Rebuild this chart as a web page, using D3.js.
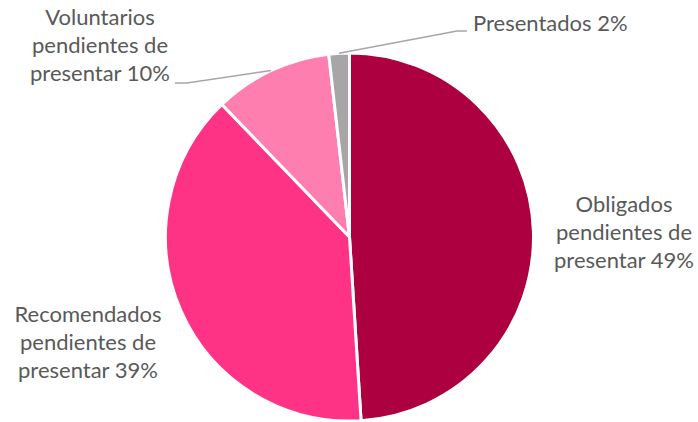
<!DOCTYPE html>
<meta charset="utf-8">
<style>
    body { margin: 0; background: #fff; }
    svg { font-family: Lato, "Open Sans", sans-serif; }
    .label { fill: #595959; font-size: 22px; }
</style>
<body>
<script src="https://d3js.org/d3.v7.min.js"></script>
<script>
    // slice data, clockwise from 12 o'clock
    const categories = ["Obligados", "Recomendados", "Voluntarios", "Presentados"];
    const shares = [49.0, 38.8, 10.4, 1.8];
    const labelLines = [
        ["Obligados", "pendientes de", "presentar 49%"],
        ["Recomendados", "pendientes de", "presentar 39%"],
        ["Voluntarios", "pendientes de", "presentar 10%"],
        ["Presentados 2%"]
    ];
    const colors = ["#ad0040", "#ff3385", "#ff7eb0", "#a6a6a6"];

    const width = 698, height = 422;
    const cx = 349.5, cy = 237, radius = 184;

    // where Excel put each label (x, first baseline, anchor) and optional leader elbow
    const labelPos = [
        {x: 624, y: 212, anchor: "middle"},
        {x: 88, y: 322, anchor: "middle"},
        {x: 100, y: 25, anchor: "middle", elbow: [187, 83], end: [175, 83]},
        {x: 473, y: 31, anchor: "start", elbow: [457, 31], end: [467, 31]}
    ];
    const lineHeight = 28;

    const data = categories.map((c, i) => ({name: c, value: shares[i], i: i}));

    const svg = d3.select("body").append("svg")
        .attr("width", width)
        .attr("height", height);

    const pie = d3.pie().sort(null).value(d => d.value);
    const arc = d3.arc().innerRadius(0).outerRadius(radius);
    const edge = d3.arc().innerRadius(radius).outerRadius(radius);

    const g = svg.append("g").attr("transform", "translate(" + cx + "," + cy + ")");

    const arcs = pie(data);

    g.selectAll("path.slice")
        .data(arcs)
        .enter().append("path")
        .attr("class", "slice")
        .attr("d", arc)
        .style("fill", d => colors[d.data.i])
        .style("stroke", "#fff")
        .style("stroke-width", 3)
        .style("stroke-linejoin", "round");

    // leader lines from the slice rim to the label
    arcs.forEach(d => {
        const p = labelPos[d.data.i];
        if (!p.elbow) return;
        const s = edge.centroid(d);
        const pts = [[cx + s[0], cy + s[1]], p.elbow, p.end];
        svg.append("polyline")
            .attr("points", pts.map(q => q.join(",")).join(" "))
            .style("fill", "none")
            .style("stroke", "#a6a6a6")
            .style("stroke-width", 1.5);
    });

    labelLines.forEach((lines, i) => {
        const p = labelPos[i];
        const t = svg.append("text")
            .attr("class", "label")
            .attr("text-anchor", p.anchor);
        lines.forEach((l, k) => {
            t.append("tspan")
                .attr("x", p.x)
                .attr("y", p.y + k * lineHeight)
                .text(l);
        });
    });
</script>
</body>
</html>
